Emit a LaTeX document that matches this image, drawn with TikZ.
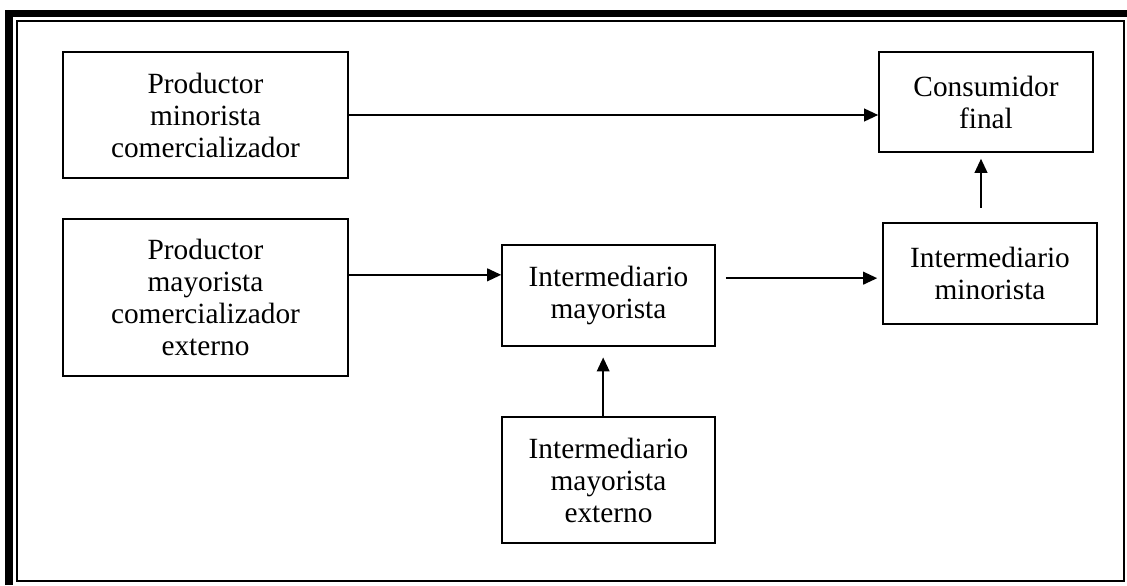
\documentclass[tikz,border=0pt]{standalone}
\usepackage{fontspec}
\setmainfont{Liberation Serif}
\usetikzlibrary{arrows.meta}

\begin{document}
\begin{tikzpicture}[
    x=0.75pt, y=-0.75pt,
    block/.style={rectangle, draw, line width=1.2pt, inner sep=0pt, align=center,
        font=\fontsize{22pt}{24pt}\selectfont},
    arrow/.style={-{Triangle[length=10.5pt, width=9.5pt]}, line width=1.3pt}
]
    \useasboundingbox (0,0) rectangle (1127,585);
    % marco
    \draw[line width=1.4pt] (17,21) rectangle (1124,581);
    \draw[line width=5.5pt] (9,585) -- (9,13.5) -- (1127,13.5);

    \node[block, minimum width=213.75pt, minimum height=94.5pt] (prodmin) at (205.5,115) {Productor\\minorista\\comercializador};
    \node[block, minimum width=213.75pt, minimum height=117.75pt] (prodmay) at (205.5,297.5) {Productor\\mayorista\\comercializador\\externo};
    \node[block, minimum width=159.75pt, minimum height=75.75pt] (intmay) at (608.5,295.5) {Intermediario\\mayorista};
    \node[block, minimum width=159.75pt, minimum height=94.5pt] (intmayext) at (608.5,480) {Intermediario\\mayorista\\externo};
    \node[block, minimum width=160.5pt, minimum height=75pt] (consumidor) at (986,102) {Consumidor\\final};
    \node[block, minimum width=160.5pt, minimum height=75.75pt] (intmin) at (990,273.5) {Intermediario\\minorista};

    \coordinate (pm) at ([yshift=17pt]prodmay.east);
    \coordinate (im) at ([yshift=13pt]intmay.east);
    \coordinate (mi) at ([xshift=-6.75pt]intmin.north);
    \coordinate (me) at ([xshift=-4pt]intmayext.north);

    \draw[arrow] (prodmin.east) -- (prodmin.east -| consumidor.west);
    \draw[arrow] (pm) -- (pm -| intmay.west);
    \draw[arrow, shorten <=7.5pt, shorten >=3.75pt] (im) -- (im -| intmin.west);
    \draw[arrow, shorten <=11pt, shorten >=4.5pt] (mi) -- (mi |- consumidor.south);
    \draw[arrow, shorten >=8pt] (me) -- (me |- intmay.south);
\end{tikzpicture}
\end{document}
